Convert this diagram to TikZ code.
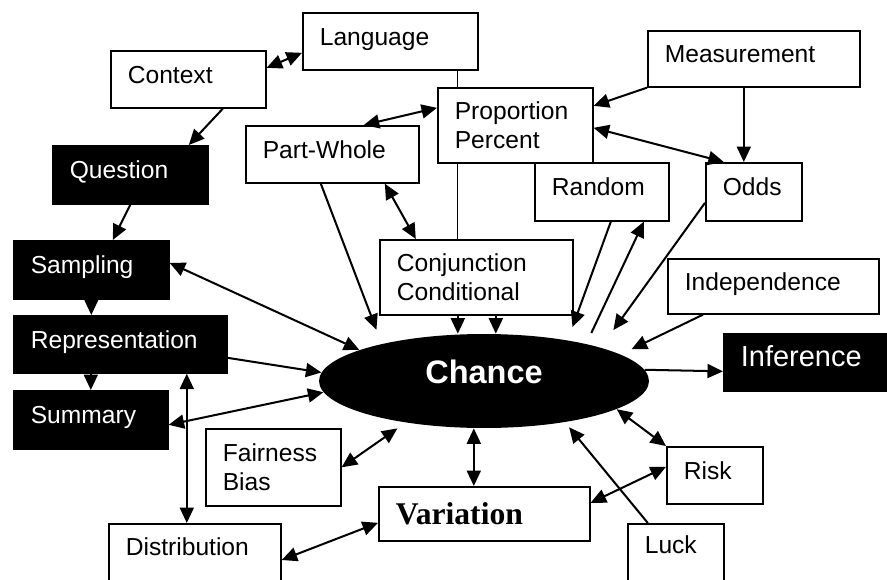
\documentclass[tikz,border=0pt]{standalone}
\usepackage{fontspec}
\setmainfont{Liberation Sans}
\newfontfamily\serifvar{Liberation Serif}
\usetikzlibrary{arrows.meta,shapes.geometric}
\pgfdeclarelayer{back}
\pgfsetlayers{back,main}

\begin{document}
\begin{tikzpicture}[x=0.02cm,y=-0.02cm,
  bx/.style={draw,fill=white,line width=0.95pt,anchor=north west,align=left,inner xsep=0.34cm,inner ysep=0pt,
    text height=10.5pt,text depth=6pt,font=\fontsize{14}{16.5}\selectfont},
  dk/.style={bx,fill=black,text=white},
  twoline/.style={text height=,text depth=},
  ar/.style={line width=1.15pt,-{Triangle[length=0.31cm,width=0.28cm]}},
  ba/.style={line width=1.15pt,{Triangle[length=0.31cm,width=0.28cm]}-{Triangle[length=0.31cm,width=0.28cm]}}]
 \useasboundingbox (0,0) rectangle (887,579);
 \node[bx,text width=2.42cm,minimum height=1.14cm] (Context) at (110,50) {Context};
 \node[bx,text width=2.82cm,minimum height=1.14cm] (Language) at (302,12) {Language};
 \node[bx,text width=3.56cm,minimum height=1.12cm] (Measurement) at (647,30) {Measurement};
 \node[bx,twoline,text width=2.42cm,minimum height=1.50cm] (Proportion) at (437,87) {Proportion\\Percent};
 \node[bx,text width=2.78cm,minimum height=1.14cm] (PartWhole) at (245,125) {Part-Whole};
 \node[dk,text width=2.42cm,minimum height=1.16cm] (Question) at (52,145) {Question};
 \node[bx,text width=2.00cm,minimum height=1.16cm] (Random) at (534,162) {Random};
 \node[bx,text width=1.24cm,minimum height=1.16cm] (Odds) at (705,162) {Odds};
 \node[dk,text width=2.42cm,minimum height=1.16cm] (Sampling) at (13,240) {Sampling};
 \node[bx,twoline,text width=3.18cm,minimum height=1.50cm] (Conjunction) at (379,239) {Conjunction\\Conditional};
 \node[bx,text width=3.54cm,minimum height=1.10cm] (Independence) at (667,258) {Independence};
 \node[dk,text width=3.58cm,minimum height=1.14cm] (Representation) at (13,315) {Representation};
 \node[dk,text width=2.60cm,minimum height=1.14cm,font=\fontsize{16.5}{19}\selectfont] (Inference) at (723,333) {Inference};
 \node[dk,text width=2.40cm,minimum height=1.16cm] (Summary) at (13,390) {Summary};
 \node[bx,twoline,text width=2.02cm,minimum height=1.54cm] (Fairness) at (205,428) {Fairness\\Bias};
 \node[bx,text width=3.54cm,minimum height=1.08cm,text height=12pt,text depth=0pt,font=\fontsize{18}{20}\serifvar\bfseries] (Variation) at (378,486) {Variation};
 \node[bx,text width=1.24cm,minimum height=1.14cm] (Risk) at (666,446) {Risk};
 \node[bx,text width=2.76cm,text height=0.64cm,text depth=0.9cm] (Distribution) at (108,523) {Distribution};
 \node[bx,text width=1.24cm,text height=0.6cm,text depth=0.94cm] (Luck) at (627,523) {Luck};
 \node[ellipse,fill=black,text=white,minimum width=6.6cm,minimum height=1.88cm,inner sep=0pt,
   font=\fontsize{18.5}{20}\selectfont\bfseries,text height=13.2pt,text depth=10.8pt] (Chance) at (484,381) {Chance};
 \begin{pgfonlayer}{back}
  \coordinate (lc) at ([xshift=1.35cm]Language.south);
  \draw[line width=0.7pt] (lc) -- (lc |- Conjunction.north);
 \end{pgfonlayer}
 \draw[ba] ([yshift=0.23cm]Context.east) -- ([yshift=-0.23cm]Language.west);
 \draw[ar] ([xshift=0.69cm]Context.south) -- ([xshift=1.17cm]Question.north);
 \draw[ar] (Question.south) -- ([xshift=0.43cm]Sampling.north);
 \draw[ar] (Sampling.south) -- (Sampling.south |- Representation.north);
 \draw[ar] (Summary.north |- Representation.south) -- (Summary.north);
 \coordinate (rd) at ([xshift=1.33cm]Representation.south);
 \draw[ba] (rd) -- (rd |- Distribution.north);
 \draw[ba] ([xshift=0.63cm]PartWhole.north) -- ([yshift=0.35cm]Proportion.west);
 \draw[ar] (Measurement.south west) -- ([yshift=0.39cm]Proportion.east);
 \coordinate (mo) at ([xshift=-0.2cm]Measurement.south);
 \draw[ar] (mo) -- (mo |- Odds.north);
 \draw[ba] ([yshift=-0.05cm]Proportion.east) -- ([xshift=-0.6cm]Odds.north);
 \draw[ba] ([xshift=1.05cm]PartWhole.south) -- ([xshift=-1.21cm]Conjunction.north);
 \foreach \s in {-0.37,0.39} {
   \coordinate (cc) at ([xshift=\s cm]Conjunction.south);
   \draw[ar] (cc) -- (cc |- Chance.north);
 }
 \draw[ba] ([yshift=0.14cm]Sampling.east) -- (Chance.166);
 \draw[ar] ([yshift=-0.27cm]Representation.east) -- (Chance.177);
 \draw[ba] ([yshift=-0.1cm]Summary.east) -- (Chance.184);
 \draw[ar,shorten >=0.3cm] ([xshift=-0.23cm]PartWhole.south) -- (Chance.160);
 \draw[ar,shorten >=0.28cm] ([xshift=0.18cm]Random.south) -- (Chance.26);
 \draw[ar,shorten <=0.24cm] (Chance.20) -- ([xshift=0.84cm]Random.south);
 \draw[ar,shorten >=0.43cm] ([yshift=-0.22cm]Odds.west) -- (Chance.16);
 \draw[ar,shorten >=0.24cm] ([xshift=0.72cm]Independence.south west) -- (Chance.11);
 \draw[ar] (Chance.4) -- ([yshift=-0.18cm]Inference.west);
 \draw[ba,shorten >=0.2cm] (Fairness.east) -- (Chance.208);
 \coordinate (cv) at ([xshift=-0.21cm]Variation.north);
 \draw[ba] (cv) -- (cv |- Chance.south);
 \draw[ba] (Chance.348) -- (Risk.north west);
 \draw[ba] ([yshift=0.17cm]Risk.west) -- ([yshift=0.22cm]Variation.east);
 \draw[ar,shorten >=0.13cm] ([xshift=-0.56cm]Luck.north) -- (Chance.333);
 \draw[ba] ([yshift=-0.18cm]Variation.west) -- ([yshift=-0.74cm]Distribution.north east);
\end{tikzpicture}
\end{document}
